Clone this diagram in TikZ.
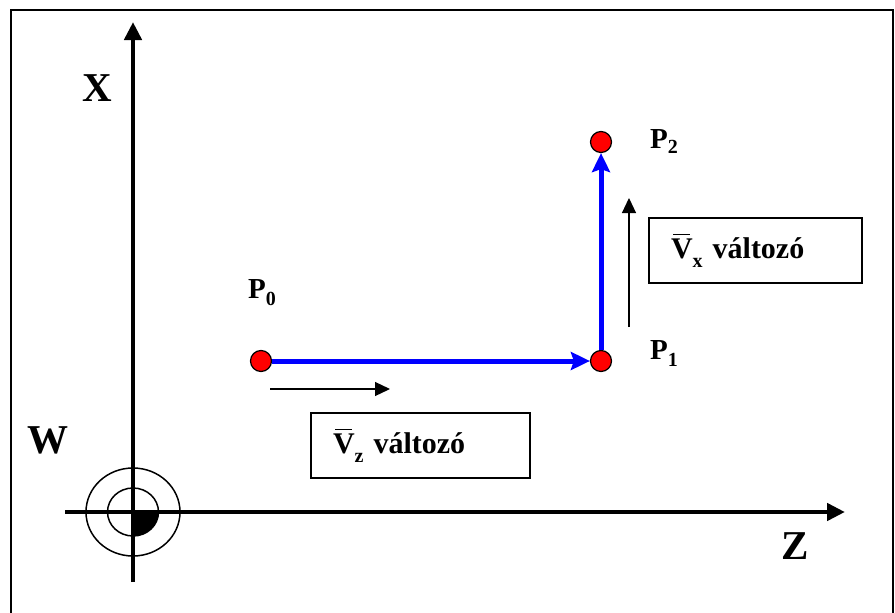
\documentclass[tikz,border=0pt]{standalone}
\usepackage{fontspec}
\setmainfont{Liberation Serif}
\usepackage{xcolor}
\definecolor{pathBlue}{HTML}{0000FF}
\definecolor{dotRed}{HTML}{FF0000}
\usetikzlibrary{positioning,arrows.meta,calc}
% barred V and lowered subscripts
\newcommand{\barV}{\makebox[0pt][l]{\hspace{0.07em}\raisebox{0.78em}{\rule{0.56em}{1.4pt}}}V}
\newcommand{\lowsub}[2]{\raisebox{-#1}{\fontsize{20}{22}\selectfont #2}}

\begin{document}
\begin{tikzpicture}[x=1pt,y=-1pt,
  axis/.style={line width=4.5pt, -{Triangle[length=18pt,width=17pt]}},
  hint/.style={line width=1.2pt, -{Triangle[length=15pt,width=14pt]}},
  bluepath/.style={draw=pathBlue, line width=5pt, -{Stealth[length=19pt,width=18pt,inset=3pt]}},
  dot/.style={circle, draw=black, line width=1.2pt, fill=dotRed, minimum size=21pt, inner sep=0pt},
  bigletter/.style={font=\fontsize{41}{44}\selectfont\bfseries},
  plabel/.style={font=\fontsize{29}{31}\selectfont\bfseries},
  infobox/.style={draw, line width=1.5pt, minimum height=65pt, inner xsep=22pt, align=left,
    font=\fontsize{30}{32}\selectfont\bfseries}]
  \useasboundingbox (0,0) rectangle (895,613);
  % Frame (open at the bottom)
  \draw[line width=1.8pt] (11,613) -- (11,10) -- (893,10) -- (893,613);
  % Axes
  \coordinate (origin) at (133,512);
  \coordinate (xbot) at (133,582);
  \coordinate (xtip) at (133,22);
  \coordinate (zleft) at (65,512);
  \coordinate (ztip) at (845,512);
  \draw[axis] (xbot) -- (xtip);
  \draw[axis] (zleft) -- (ztip);
  % Workpiece zero symbol W
  \draw[line width=1.5pt] (origin) ellipse [x radius=47, y radius=44];
  \draw[line width=1.5pt] (origin) ellipse [x radius=25.5, y radius=24];
  \fill (origin) -- ++(25.5,0) arc [start angle=0, end angle=90, x radius=25.5, y radius=24] -- cycle;
  % Axis letters
  \node[bigletter] (xlab) at (97,88) {X};
  \node[bigletter] (wlab) at (48,440) {W};
  \node[bigletter] (zlab) at (795,546) {Z};
  % Points of the path
  \node[dot] (p0) at (261,361) {};
  \node[dot] (p1) at (601,361) {};
  \node[dot] (p2) at (601,142) {};
  \node[plabel] (p0lab) at (262,293) {P\lowsub{7pt}{0}};
  \node[plabel] (p1lab) at (664,354) {P\lowsub{7pt}{1}};
  \node[plabel] (p2lab) at (664,142) {P\lowsub{5pt}{2}};
  % Tool path
  \draw[bluepath] (p0) -- (p1);
  \draw[bluepath] (p1) -- (p2);
  % Direction hints
  \coordinate (zhintA) at (270,389);
  \coordinate (zhintB) at (390,389);
  \coordinate (xhintA) at (629,327);
  \coordinate (xhintB) at (629,198);
  \draw[hint] (zhintA) -- (zhintB);
  \draw[hint] (xhintA) -- (xhintB);
  % Velocity boxes
  \node[infobox, text width=175pt] (vzbox) at (420.5,445.5) {\barV\lowsub{9pt}{z} változó};
  \node[infobox, text width=169pt] (vxbox) at (755.5,250.5) {\barV\lowsub{9pt}{x} változó};
\end{tikzpicture}
\end{document}
